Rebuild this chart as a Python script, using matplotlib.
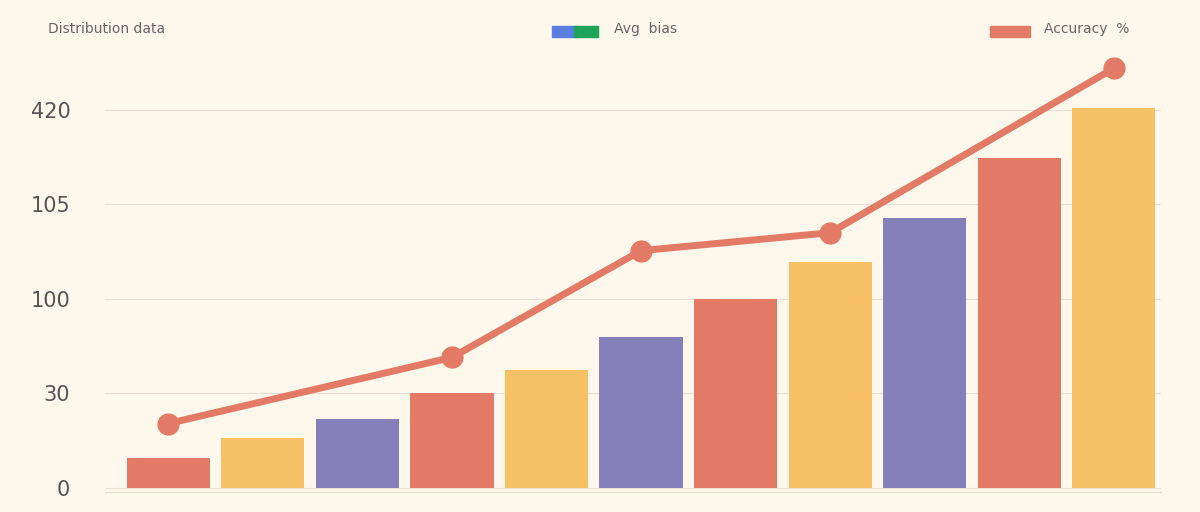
import matplotlib.pyplot as plt
import numpy as np

# bar values in axis units (tick spacing = 1)
bar_vals = [0.31, 0.53, 0.73, 1.0, 1.25, 1.60, 2.0, 2.39, 2.86, 3.49, 4.02]
line_idx = [0, 3, 5, 7, 10]
line_vals = [0.68, 1.38, 2.51, 2.70, 4.44]
tick_pos = [0, 1, 2, 3, 4]
tick_labels = ['0', '30', '100', '105', '420']

red, yellow, purple = '#E27A65', '#F8C064', '#8680BA'
bg = '#FDF7EC'
colors = [[red, yellow, purple][i % 3] for i in range(len(bar_vals))]

fig = plt.figure(figsize=(12, 5.12), dpi=100, facecolor=bg)
ax = fig.add_axes([0.0875, 0.04, 0.88, 0.88])
ax.set_facecolor(bg)

x = np.arange(len(bar_vals))
ax.bar(x, bar_vals, width=0.88, color=colors, zorder=2)
ax.plot(line_idx, line_vals, color='#E27A65', lw=5, marker='o', ms=15, zorder=3,
        solid_capstyle='round')

ax.set_xlim(-0.67, 10.5)
ax.set_ylim(-0.04, 4.73)
ax.set_yticks(tick_pos, tick_labels)
ax.set_xticks([])
ax.tick_params(axis='y', length=0, labelsize=15, labelcolor='#555555', pad=25)
ax.grid(axis='y', color='#EADFD0', lw=0.8, zorder=0)
for s in ['top', 'right', 'left']:
    ax.spines[s].set_visible(False)
ax.spines['bottom'].set_color('#E6DCCD')

fig.text(0.04, 0.935, 'Distribution data', fontsize=10, color='#666666')
# legend swatches
fig.patches.append(plt.Rectangle((0.46, 0.927), 0.02, 0.022, color='#5B7FE0',
                                 transform=fig.transFigure, figure=fig))
fig.patches.append(plt.Rectangle((0.478, 0.927), 0.02, 0.022, color='#1FA35A',
                                 transform=fig.transFigure, figure=fig))
fig.text(0.512, 0.935, 'Avg  bias', fontsize=10, color='#666666')
fig.patches.append(plt.Rectangle((0.825, 0.927), 0.033, 0.022, color=red,
                                 transform=fig.transFigure, figure=fig))
fig.text(0.87, 0.935, 'Accuracy  %', fontsize=10, color='#666666')

fig.savefig('out.png', facecolor=bg)
